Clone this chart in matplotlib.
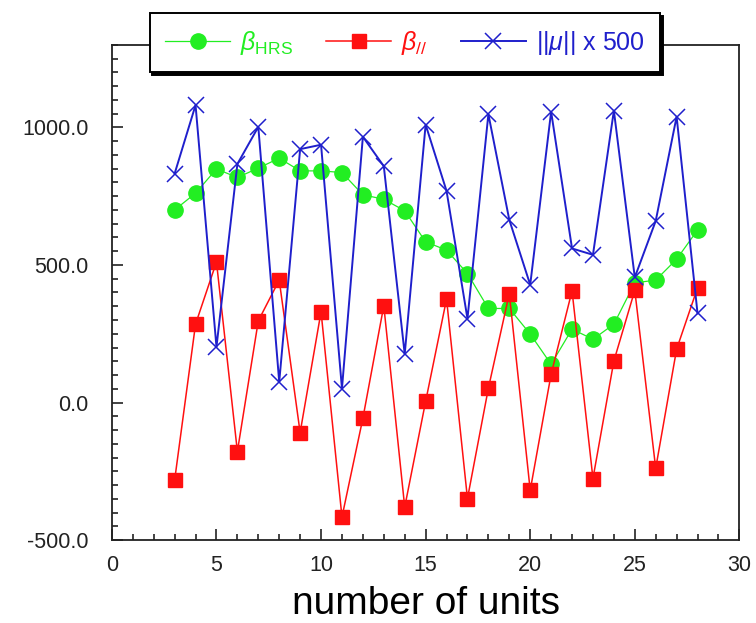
import matplotlib
matplotlib.use("Agg")
import matplotlib.pyplot as plt
from matplotlib.ticker import MultipleLocator, FormatStrFormatter

plt.rcParams['font.family'] = ['Liberation Sans', 'DejaVu Sans']
plt.rcParams['mathtext.fontset'] = 'custom'
plt.rcParams['mathtext.rm'] = 'Liberation Sans'
plt.rcParams['mathtext.it'] = 'Liberation Sans:italic'

# number of units
units = list(range(3, 29))

# beta_HRS (green circles)
beta_hrs = [700, 761, 849, 818, 852, 888, 842, 842, 836, 755, 739, 697, 584,
            554, 469, 342, 342, 249, 139, 267, 230, 285, 435, 445, 521, 627]

# beta_parallel (red squares)
beta_par = [-282, 285, 511, -178, 297, 445, -109, 330, -416, -57, 352, -380, 4,
            376, -349, 52, 396, -319, 103, 406, -276, 151, 408, -239, 194, 417]

# ||mu|| x 500 (blue crosses)
mu_x500 = [832, 1081, 202, 867, 1002, 75, 921, 937, 51, 966, 859, 176, 1010,
           769, 305, 1048, 664, 428, 1057, 560, 537, 1061, 455, 660, 1039, 324]

fig = plt.figure(figsize=(7.56, 6.23), dpi=100)
ax = fig.add_axes([0.148, 0.133, 0.83, 0.795])

ax.plot(units, beta_hrs, color='#22ee22', lw=0.9, marker='o', ms=11,
        mec='#22ee22', mfc='#22ee22', label=r'$\beta_{\mathrm{HRS}}$', zorder=2)
ax.plot(units, beta_par, color='#ff1010', lw=1.1, marker='s', ms=10,
        mec='#ff1010', mfc='#ff1010', label=r'$\beta_{//}$', zorder=3)
ax.plot(units, mu_x500, color='#1f1fcc', lw=1.4, marker='x', ms=11, mew=1.1,
        label=r'$||\mu||$ x 500', zorder=4)

ax.set_xlim(0, 30)
ax.set_ylim(-500, 1300)
ax.xaxis.set_major_locator(MultipleLocator(5))
ax.xaxis.set_minor_locator(MultipleLocator(1))
ax.yaxis.set_major_locator(MultipleLocator(500))
ax.yaxis.set_minor_locator(MultipleLocator(50))
ax.yaxis.set_major_formatter(FormatStrFormatter('%.1f'))

ax.tick_params(which='both', direction='in', top=False, right=False,
               colors='#222222', labelsize=15.5, width=1.2)
ax.tick_params(which='major', length=8)
ax.tick_params(which='minor', length=4)
ax.tick_params(axis='y', pad=17)
ax.tick_params(axis='x', pad=11)
for s in ax.spines.values():
    s.set_linewidth(1.3)
    s.set_color('#222222')

ax.set_xlabel('number of units', fontsize=28, labelpad=7)

leg = fig.legend(loc='upper left', bbox_to_anchor=(0.198, 0.0, 0.675, 0.979),
                 mode='expand', ncol=3, fancybox=False, edgecolor='black',
                 framealpha=1, shadow={'color': 'black', 'alpha': 1},
                 labelcolor='linecolor', fontsize=18, handlelength=2.6,
                 borderpad=0.62, borderaxespad=0, handletextpad=0.4)
leg.get_frame().set_linewidth(1.4)

fig.savefig('out.png', dpi=100)
